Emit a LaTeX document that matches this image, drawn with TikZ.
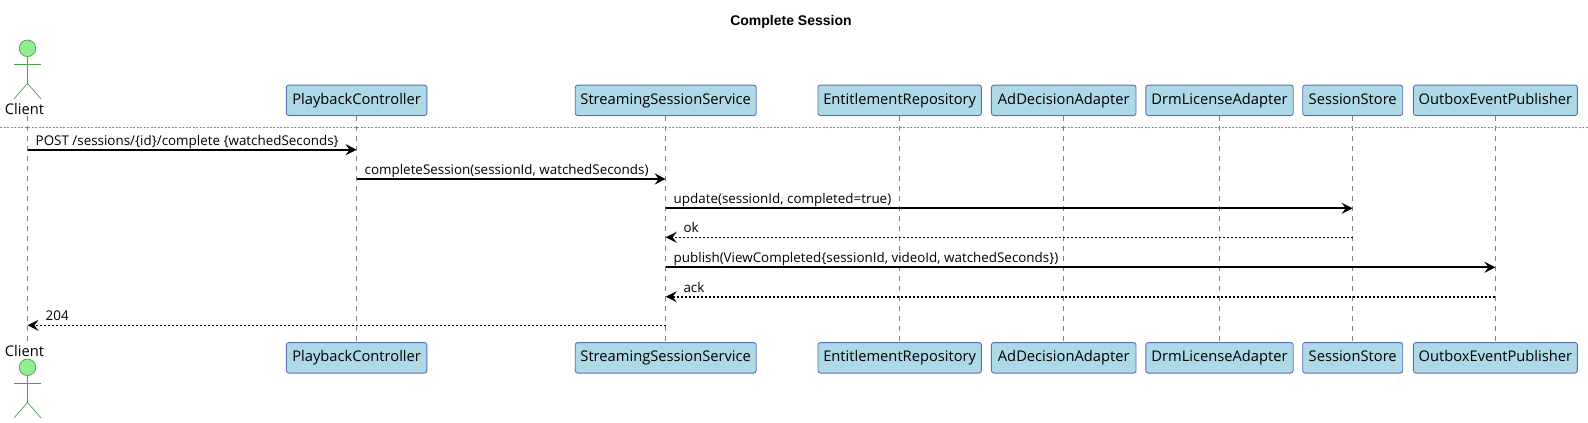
\documentclass[tikz,border=0pt]{standalone}
\usepackage{fontspec}
\setmainfont{Open Sans}
\newfontfamily\titlefont{Liberation Sans}
\usetikzlibrary{arrows.meta}
\definecolor{partfill}{HTML}{ADD8E6}
\definecolor{partline}{HTML}{5B6FC0}
\definecolor{actorfill}{HTML}{90EE90}
\definecolor{actorline}{HTML}{4E9A4E}
\tikzset{
  part/.style={draw=partline,fill=partfill,rounded corners=2.5pt,line width=0.9pt,minimum height=30.5pt,inner sep=0pt,text height=11pt,text depth=3pt,font=\fontsize{14.7}{17}\selectfont},
  lifeline/.style={draw=black!50,line width=0.8pt,dash pattern=on 5pt off 5pt},
  call/.style={draw=black,line width=2pt,-{Stealth[length=11pt,width=11pt,inset=4pt]}},
  reply/.style={draw=black,line width=1.6pt,dash pattern=on 2pt off 2pt,-{Stealth[length=11pt,width=11pt,inset=4pt]}},
  msg/.style={font=\fontsize{13.4}{16}\selectfont,inner sep=0pt,anchor=base west},
  stick/.style={draw=actorline,line width=0.7pt}
}
\begin{document}
\begin{tikzpicture}[x=1pt,y=-1pt]
  \useasboundingbox (0,0) rectangle (1588,423);
  \node(title)[font=\titlefont\bfseries\fontsize{14}{17}\selectfont] at (791,22){Complete Session};
  % lifelines and boxes
  \foreach \nm/\px/\bw/\txt in {playback/356.6/140.6/PlaybackController,streaming/665.7/181/StreamingSessionService,entitlement/899.7/163.4/EntitlementRepository,addecision/1063.7/144.6/AdDecisionAdapter,drm/1219.5/147.4/DrmLicenseAdapter,store/1352.7/100/SessionStore,outbox/1495.4/164/OutboxEventPublisher}{
    \coordinate(\nm) at (\px,200);
    \draw[lifeline] (\px,116) -- (\px,342);
    \node(\nm top)[part,minimum width=\bw pt] at (\px,100.3){\txt};
    \node(\nm bot)[part,minimum width=\bw pt] at (\px,357.8){\txt};
  }
  \coordinate(client) at (27.5,200);
  \draw[lifeline] (27.5,116) -- (27.5,342);
  % separator
  \coordinate(sepl) at (0,127.3);
  \coordinate(sepr) at (1588,127.3);
  \draw[black!45,line width=0.6pt,dash pattern=on 2pt off 1.5pt] (sepl) -- (sepr);
  % actors
  \foreach \nm/\hy/\ly in {clienta/48.3/109,clientb/367.3/351}{
    \node(\nm)[circle,draw=actorline,fill=actorfill,line width=0.7pt,minimum size=16.5pt,inner sep=0pt] at (27.5,\hy){};
    \coordinate(\nm hip) at (27.5,\hy+35.2);
    \draw[stick] (\nm.south) -- (\nm hip);
    \draw[stick] (14,\hy+15.8) -- (41,\hy+15.8);
    \draw[stick] (14,\hy+50.6) -- (\nm hip) -- (41,\hy+50.6);
    \node(\nm label)[font=\fontsize{14.7}{17}\selectfont,fill=white,inner sep=0pt] at (24.5,\ly){Client};
  }
  % messages
  \foreach \from/\to/\yy/\sty/\lx/\txt in {
    27.5/356.6/149.7/call/35.5/{POST /sessions/\{id\}/complete \{watchedSeconds\}},
    356.6/665.7/179/call/364.5/{completeSession(sessionId, watchedSeconds)},
    665.7/1352.7/208.3/call/673.5/{update(sessionId, completed=true)},
    1352.7/665.7/237.3/reply/683.3/{ok},
    665.7/1495.4/267.3/call/673.5/{publish(ViewCompleted\{sessionId, videoId, watchedSeconds\})},
    1495.4/665.7/296.7/reply/683.3/{ack},
    665.7/27.5/325.3/reply/45.5/{204}}{
    \coordinate(a) at (\from,\yy);
    \coordinate(b) at (\to,\yy);
    \draw[\sty] (a) -- (b);
    \node[msg] at (\lx,\yy-4.5){\txt};
  }
\end{tikzpicture}
\end{document}
